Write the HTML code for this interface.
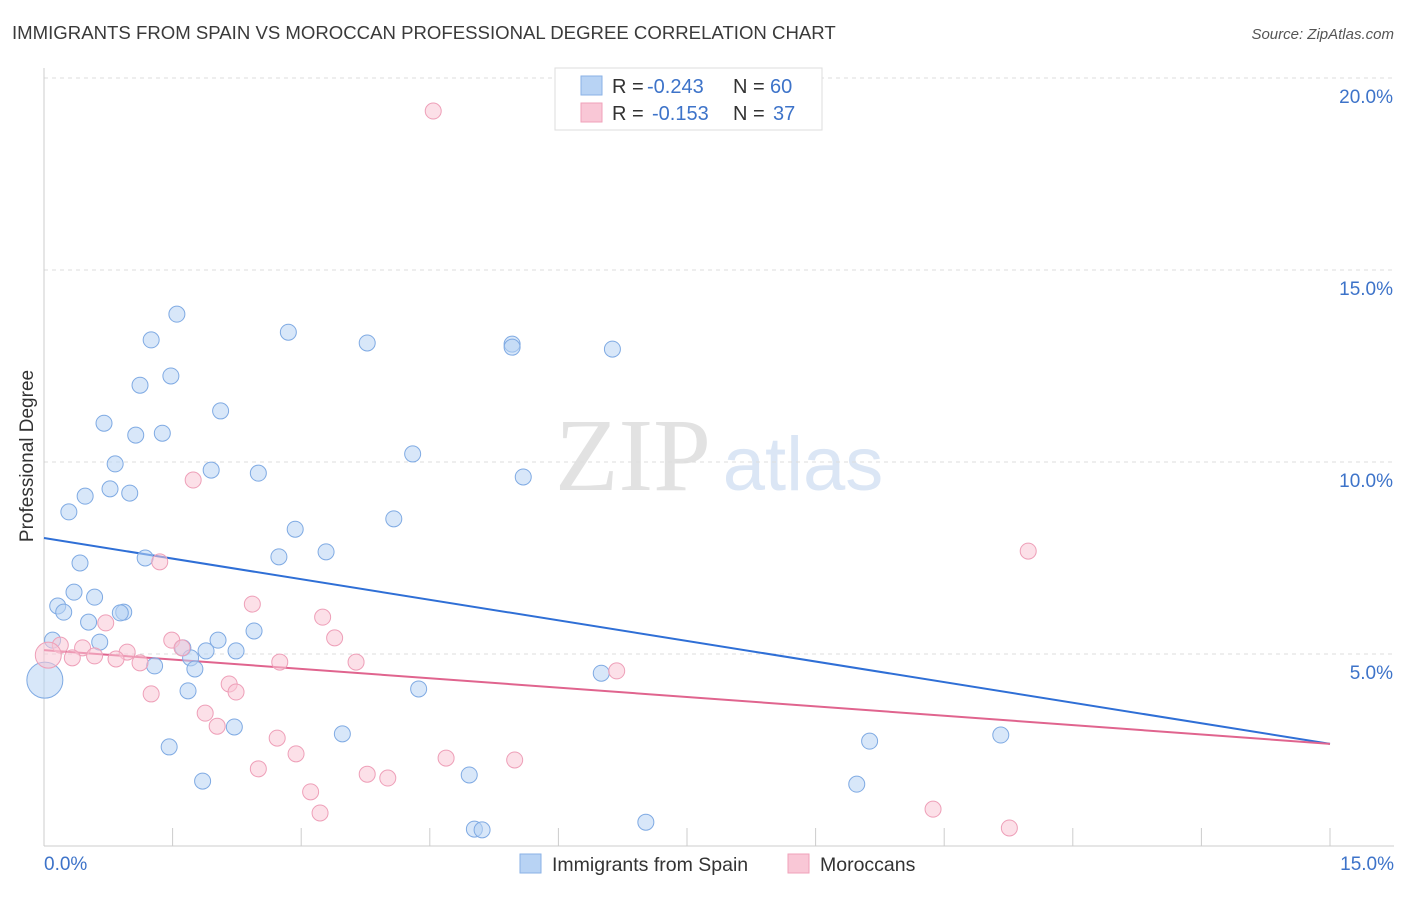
<!DOCTYPE html>
<html><head><meta charset="utf-8"><style>
body{margin:0;background:#fff;font-family:"Liberation Sans",sans-serif;}
svg text{font-family:"Liberation Sans",sans-serif;}
</style></head><body>
<svg id="chart" width="1406" height="892" xmlns="http://www.w3.org/2000/svg">
<text x="12" y="39" font-size="18.6" fill="#3a3a3a">IMMIGRANTS FROM SPAIN VS MOROCCAN PROFESSIONAL DEGREE CORRELATION CHART</text>
<text x="1394" y="39" font-size="15" fill="#555" font-style="italic" text-anchor="end">Source: ZipAtlas.com</text>
<g>
<text x="633" y="490" font-size="104" fill="#e2e2e2" text-anchor="middle" style="font-family:'Liberation Serif',serif">ZIP</text>
<text x="803" y="490" font-size="76" fill="#dbe6f5" text-anchor="middle">atlas</text>
</g>
<g id="grid"></g>
<g id="axes"></g>
<g id="lines"></g>
<g id="points"></g>
<text transform="translate(33,456) rotate(-90)" font-size="19" fill="#333" text-anchor="middle">Professional Degree</text>
<g>
<rect x="555" y="68" width="267" height="62" fill="#fff" stroke="#ddd"/>
<rect x="581" y="76" width="21" height="19" fill="#b8d3f4" stroke="#8ab2e6"/>
<rect x="581" y="103" width="21" height="19" fill="#f9c7d6" stroke="#f0a2ba"/>
<text x="612" y="93" font-size="20" fill="#333">R =</text>
<text x="647" y="93" font-size="20" fill="#3d73c9">-0.243</text>
<text x="733" y="93" font-size="20" fill="#333">N =</text>
<text x="770" y="93" font-size="20" fill="#3d73c9">60</text>
<text x="612" y="120" font-size="20" fill="#333">R =</text>
<text x="652" y="120" font-size="20" fill="#3d73c9">-0.153</text>
<text x="733" y="120" font-size="20" fill="#333">N =</text>
<text x="773" y="120" font-size="20" fill="#3d73c9">37</text>
</g>
<g>
<rect x="520" y="854" width="21" height="19" fill="#b8d3f4" stroke="#8ab2e6"/>
<text x="552" y="871" font-size="19.5" fill="#333">Immigrants from Spain</text>
<rect x="788" y="854" width="21" height="19" fill="#f9c7d6" stroke="#f0a2ba"/>
<text x="820" y="871" font-size="19.5" fill="#333">Moroccans</text>
</g>
</svg>
<script>
const yTicks=[5,10,15,20];
const yTickLabels=["5.0%","10.0%","15.0%","20.0%"];
const blueX=[1.55,1.25,2.85,3.77,5.46,5.46,6.63,1.48,1.12,2.06,0.70,1.07,1.38,4.30,0.83,1.95,2.50,5.59,0.77,1.00,0.48,0.29,4.08,2.93,3.29,2.74,1.18,0.42,0.35,0.59,0.16,0.23,0.93,0.89,0.52,2.45,0.65,2.03,0.10,1.62,1.89,2.24,1.71,1.76,1.29,6.50,1.68,4.37,2.22,3.48,1.46,9.63,11.16,1.85,4.96,9.48,5.02,5.11,7.02,0.01];
const blueY=[13.85,13.18,13.38,13.10,13.07,12.99,12.94,12.24,12.00,11.33,11.01,10.70,10.75,10.21,9.95,9.79,9.71,9.61,9.30,9.19,9.11,8.70,8.52,8.25,7.66,7.53,7.50,7.37,6.61,6.48,6.25,6.09,6.09,6.07,5.83,5.60,5.31,5.36,5.36,5.16,5.08,5.08,4.90,4.61,4.69,4.50,4.04,4.09,3.10,2.92,2.58,2.73,2.89,1.69,1.85,1.61,0.44,0.42,0.62,4.32];
const pinkX=[4.54,1.74,11.48,1.35,2.43,3.25,0.72,3.39,1.49,0.19,1.61,0.45,0.97,0.59,0.33,0.84,1.12,2.75,3.64,6.68,2.16,2.24,1.25,1.88,2.02,2.72,2.94,4.69,5.49,2.50,3.77,4.01,3.11,3.22,10.37,11.26,0.05];
const pinkY=[19.14,9.53,7.68,7.40,6.30,5.96,5.81,5.42,5.36,5.23,5.16,5.16,5.05,4.95,4.90,4.87,4.77,4.79,4.79,4.56,4.22,4.01,3.96,3.46,3.12,2.81,2.40,2.29,2.24,2.01,1.87,1.77,1.41,0.86,0.96,0.47,4.97];
const blueTrend=[8.02,2.66];
const pinkTrend=[5.10,2.66];
const NS="http://www.w3.org/2000/svg";
const X=v=>44+v/15*1286, Y=v=>846-v/5*192;
function mk(t,a,p){const e=document.createElementNS(NS,t);for(const k in a)e.setAttribute(k,a[k]);document.getElementById(p).appendChild(e);return e;}
yTicks.forEach((t,i)=>{
 const l=mk('line',{x1:44,x2:1394,y1:Y(t),y2:Y(t),stroke:'#ddd','stroke-dasharray':'4,4'},'grid');
 
 
 const tx=mk('text',{x:1393,y:Y(t)+25,'font-size':19,fill:'#3d73c9','text-anchor':'end'},'axes');
 tx.textContent=yTickLabels[i];
 
 
});
const ax=mk('line',{x1:44,x2:1394,y1:846,y2:846,stroke:'#ccc'},'axes');


const ay=mk('line',{x1:44,x2:44,y1:68,y2:846,stroke:'#ccc'},'axes');


for(let i=0;i<=10;i++){const t=mk('line',{x1:X(i*1.5),x2:X(i*1.5),y1:828,y2:846,stroke:'#ccc'},'axes');
 
 }
const x0=mk('text',{x:44,y:870,'font-size':19,fill:'#3d73c9'},'axes');x0.textContent='0.0%';


const x1=mk('text',{x:1394,y:870,'font-size':19,fill:'#3d73c9','text-anchor':'end'},'axes');x1.textContent='15.0%';


function pts(xs,ys,fill,stroke,name){xs.forEach((v,i)=>{const big=i===xs.length-1;
 const c=mk('circle',{cx:X(v),cy:Y(ys[i]),r:big?(name==='spain-point'?18:13):8,fill:fill,'fill-opacity':0.55,stroke:stroke,'stroke-width':1},'points');
 
 });}
pts(blueX,blueY,'#b8d3f4','#7faae3','spain-point');
pts(pinkX,pinkY,'#f9c7d6','#ee9fb8','moroccan-point');
const bl=mk('line',{x1:X(0),y1:Y(blueTrend[0]),x2:X(15),y2:Y(blueTrend[1]),stroke:'#2f6fd6','stroke-width':2},'lines');


const pl=mk('line',{x1:X(0),y1:Y(pinkTrend[0]),x2:X(15),y2:Y(pinkTrend[1]),stroke:'#e0648e','stroke-width':2},'lines');


</script>
</body></html>
